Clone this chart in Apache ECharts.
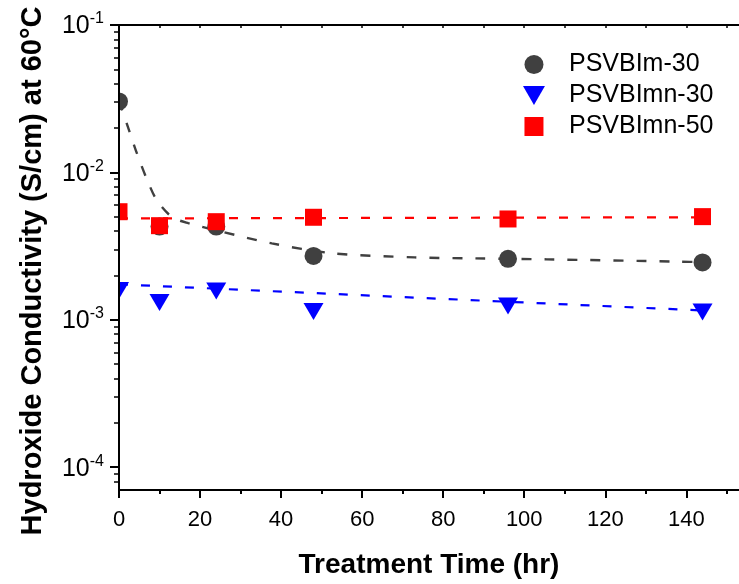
<!DOCTYPE html>
<html>
<head>
<meta charset="utf-8">
<script src="https://cdn.jsdelivr.net/npm/echarts@6/dist/echarts.min.js"></script>
<style>
  html, body { margin: 0; padding: 0; background: #fff; }
  #chart { width: 739px; height: 584px; }
</style>
</head>
<body>
<div id="chart"></div>
<script>
// measured points
const times = [0, 10, 24, 48, 96, 144];
const im30 = [0.0303, 0.00429, 0.00429, 0.00271, 0.00259, 0.00245];
const imn30 = [0.00158, 0.00131, 0.00157, 0.00114, 0.00124, 0.00113];
const imn50 = [0.00541, 0.00435, 0.00463, 0.00496, 0.00483, 0.00501];

// dashed fit curves
const im30FitX = [0, 1.9, 4.4, 6.8, 9.3, 13, 17.1, 25.4, 37.7, 52.5, 73, 88, 105.6, 138.5, 144];
const im30FitY = [0.0305, 0.0215, 0.0135, 0.0091, 0.0065, 0.0050, 0.00452, 0.00396, 0.0033, 0.00283, 0.00265, 0.00261, 0.00257, 0.00248, 0.00246];
const imn30FitX = [0, 144];
const imn30FitY = [0.00174, 0.001156];
const imn50FitX = [0, 144];
const imn50FitY = [0.00487, 0.00496];

// axis ticks
const xMajor = [0, 20, 40, 60, 80, 100, 120, 140];
const xMinor = [10, 30, 50, 70, 90, 110, 130, 150];
const xTop = [0, 10, 20, 30, 40, 50, 60, 70, 80, 90, 100, 110, 120, 130, 140, 150];
const yMajor = [1e-4, 1e-3, 1e-2, 1e-1];
const yMinor = [8e-5, 9e-5,
  2e-4, 3e-4, 4e-4, 5e-4, 6e-4, 7e-4, 8e-4, 9e-4,
  2e-3, 3e-3, 4e-3, 5e-3, 6e-3, 7e-3, 8e-3, 9e-3,
  2e-2, 3e-2, 4e-2, 5e-2, 6e-2, 7e-2, 8e-2, 9e-2];

const names = ['PSVBIm-30', 'PSVBImn-30', 'PSVBImn-50'];
const FONT = "'Liberation Sans', Arial, sans-serif";
const downTri = 'path://M0,0L2,0L1,1.732Z';
const square = 'path://M0,0L1,0L1,1L0,1Z';

const pair = (xs, ys) => xs.map((x, i) => [x, ys[i]]);

const chart = echarts.init(document.getElementById('chart'));

const axisLine = { show: true, lineStyle: { color: '#000', width: 2 } };

chart.setOption({
  animation: false,
  backgroundColor: '#fff',
  grid: { left: 119, top: 25, right: 0, bottom: 94 },
  legend: {
    data: names,
    orient: 'vertical',
    align: 'left',
    left: 518,
    top: 47,
    itemWidth: 60,
    itemHeight: 19,
    itemGap: 6,
    selectedMode: false,
    textStyle: { fontFamily: FONT, fontSize: 25, color: '#000', lineHeight: 25 }
  },
  // white mask so markers at x=0 look clipped by the left axis
  graphic: [{
    type: 'rect', left: 100, top: 20, z: 5, silent: true,
    shape: { width: 18, height: 472 },
    style: { fill: '#fff' }
  }],
  xAxis: [
    {
      type: 'value', position: 'bottom', min: 0, max: 153, z: 10,
      axisLine: axisLine,
      axisTick: { customValues: xMajor, length: 8, lineStyle: { color: '#000', width: 2 } },
      axisLabel: { customValues: xMajor, fontFamily: FONT, fontSize: 22, color: '#000', margin: 19 },
      splitLine: { show: false },
      name: 'Treatment Time (hr)', nameLocation: 'middle', nameGap: 61,
      nameTextStyle: { fontFamily: FONT, fontSize: 28, fontWeight: 'bold', color: '#000' }
    },
    {
      type: 'value', position: 'bottom', min: 0, max: 153, z: 10,
      axisLine: { show: false },
      axisTick: { customValues: xMinor, length: 4, lineStyle: { color: '#000', width: 2 } },
      axisLabel: { show: false },
      splitLine: { show: false }
    },
    {
      type: 'value', position: 'top', min: 0, max: 153, z: 10,
      axisLine: axisLine,
      axisTick: { customValues: xTop, inside: true, length: 3, lineStyle: { color: '#000', width: 1.5 } },
      axisLabel: { show: false },
      splitLine: { show: false }
    }
  ],
  yAxis: [
    {
      type: 'log', logBase: 10, position: 'left', min: 7e-5, max: 0.1, z: 10,
      axisLine: axisLine,
      axisTick: { customValues: yMajor, length: 9, lineStyle: { color: '#000', width: 2 } },
      axisLabel: {
        customValues: yMajor, margin: 15,
        formatter: v => '{b|10}{s|' + Math.round(Math.log10(v)) + '}',
        rich: {
          b: { fontFamily: FONT, fontSize: 25, color: '#000', lineHeight: 28, verticalAlign: 'bottom' },
          s: { fontFamily: FONT, fontSize: 16, color: '#000', lineHeight: 16, verticalAlign: 'top' }
        }
      },
      splitLine: { show: false },
      name: 'Hydroxide Conductivity (S/cm) at 60°C', nameLocation: 'middle', nameGap: 72,
      nameTextStyle: { fontFamily: FONT, fontSize: 29, fontWeight: 'bold', color: '#000', padding: [0, 27, 0, 0] }
    },
    {
      type: 'log', logBase: 10, position: 'left', min: 7e-5, max: 0.1, z: 10,
      axisLine: { show: false },
      axisTick: { customValues: yMinor, length: 5, lineStyle: { color: '#000', width: 1.5 } },
      axisLabel: { show: false },
      splitLine: { show: false }
    }
  ],
  series: [
    {
      name: 'fit-im30', type: 'line', silent: true, showSymbol: false, symbol: 'none',
      smooth: 0.3, z: 2,
      data: pair(im30FitX, im30FitY),
      lineStyle: { color: '#404040', width: 2.4, type: [10, 13] }
    },
    {
      name: 'fit-imn30', type: 'line', silent: true, showSymbol: false, symbol: 'none', z: 2,
      data: pair(imn30FitX, imn30FitY),
      lineStyle: { color: '#0000ff', width: 2.2, type: [9, 13] }
    },
    {
      name: 'fit-imn50', type: 'line', silent: true, showSymbol: false, symbol: 'none', z: 2,
      data: pair(imn50FitX, imn50FitY),
      lineStyle: { color: '#ff0000', width: 2.2, type: [9, 13] }
    },
    {
      name: names[0], type: 'scatter', symbol: 'circle', symbolSize: 18, z: 3,
      itemStyle: { color: '#404040', opacity: 1 },
      data: pair(times, im30)
    },
    {
      name: names[1], type: 'scatter', symbol: downTri, symbolSize: [20, 17], z: 4,
      itemStyle: { color: '#0000ff', opacity: 1 },
      data: pair(times, imn30)
    },
    {
      name: names[2], type: 'scatter', symbol: square, symbolSize: 17, z: 4,
      itemStyle: { color: '#ff0000', opacity: 1 },
      data: pair(times, imn50)
    }
  ]
});
</script>
</body>
</html>
